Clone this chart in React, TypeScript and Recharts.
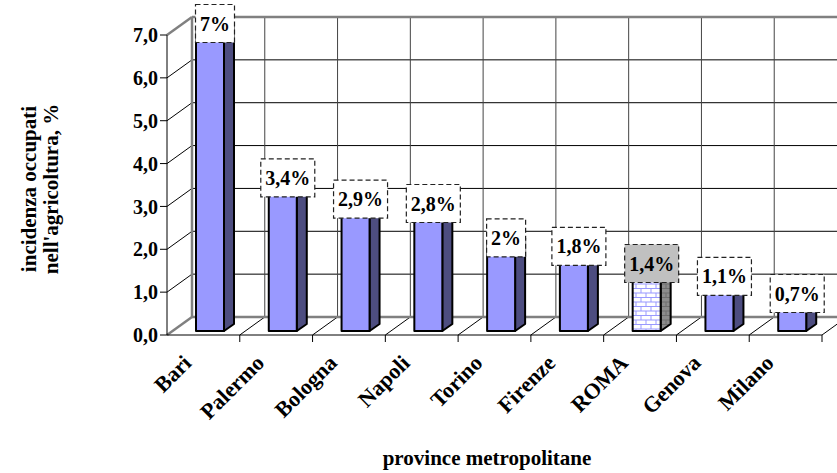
import React from "react";
import * as Recharts from "recharts";
import { BarChart, Bar, XAxis, YAxis, LabelList } from "recharts";

// Incidenza degli occupati in agricoltura per provincia metropolitana
const province = ["Bari", "Palermo", "Bologna", "Napoli", "Torino", "Firenze", "ROMA", "Genova", "Milano"];
const incidenza = [7, 3.4, 2.9, 2.8, 2.0, 1.8, 1.4, 1.1, 0.7];
const etichette = ["7%", "3,4%", "2,9%", "2,8%", "2%", "1,8%", "1,4%", "1,1%", "0,7%"];
const yTicks = [0, 1, 2, 3, 4, 5, 6, 7];
const evidenziata = "ROMA";

const data = province.map((nome, i) => ({ nome, valore: incidenza[i], etichetta: etichette[i] }));

const W = 837;
const H = 473;
const Y_MAX = 7;
const FONT = "'Liberation Serif', 'Times New Roman', serif";

// prospettiva obliqua della "stanza" 3D
const DEPTH_X = 25;
const DEPTH_Y = 18;
// posizione della colonna dentro la profondita'
const BAR_DX = 7;
const BAR_DY = 4;
const SIDE_X = 10;
const SIDE_Y = 7;

const BAR_FILL = "#9999FF";
const BAR_SIDE = "#4D4D80";
const EDGE = "#808080";

const usePlot: any = (Recharts as any).usePlotArea;

// pareti, pavimento e griglia
function Stanza() {
  const area = usePlot ? usePlot() : null;
  const x0 = area ? area.x : 167;
  const y0 = area ? area.y : 35;
  const w = area ? area.width : 655;
  const h = area ? area.height : 300;
  const yOf = (v: number) => y0 + h * (1 - v / Y_MAX);
  const step = w / province.length;
  const bottom = yOf(0);
  const bx = x0 + DEPTH_X;

  return (
    <g>
      <defs>
        <pattern id="mattoni" width="10" height="9" patternUnits="userSpaceOnUse">
          <rect width="10" height="9" fill="#FFFFFF" />
          <path d="M0 0.5H10M0 5H10M1 0.5V5M6 5V9" stroke="#9999FF" strokeWidth="1" fill="none" />
        </pattern>
        <pattern id="mattoniLato" width="10" height="9" patternUnits="userSpaceOnUse">
          <rect width="10" height="9" fill="#8C8C8C" />
          <path d="M0 0.5H10M0 5H10M1 0.5V5M6 5V9" stroke="#6E6E6E" strokeWidth="1" fill="none" />
        </pattern>
      </defs>
      {/* parete di fondo: linee orizzontali */}
      {yTicks.filter((v) => v > 0 && v < Y_MAX).map((v) => (
        <g key={"h" + v}>
          <line x1={bx} x2={W + 40} y1={yOf(v) - DEPTH_Y} y2={yOf(v) - DEPTH_Y} stroke="#000" strokeWidth={1} />
          <line x1={x0} x2={bx} y1={yOf(v)} y2={yOf(v) - DEPTH_Y} stroke="#000" strokeWidth={1} />
        </g>
      ))}
      {/* parete di fondo: linee verticali e pavimento */}
      {province.map((_, i) => {
        const xb = x0 + step * (i + 1);
        return (
          <g key={"v" + i}>
            <line x1={xb + DEPTH_X} x2={xb + DEPTH_X} y1={yOf(Y_MAX) - DEPTH_Y} y2={bottom - DEPTH_Y} stroke="#444" strokeWidth={1} />
            <line x1={xb} x2={xb + DEPTH_X} y1={bottom} y2={bottom - DEPTH_Y} stroke="#000" strokeWidth={1} />
            <line x1={xb} x2={xb} y1={bottom} y2={bottom + 7} stroke="#000" strokeWidth={1} />
          </g>
        );
      })}
      {/* spigoli */}
      <g stroke={EDGE} strokeWidth={2.5} fill="none">
        <line x1={bx} x2={W + 40} y1={yOf(Y_MAX) - DEPTH_Y} y2={yOf(Y_MAX) - DEPTH_Y} />
        <line x1={bx} x2={W + 40} y1={bottom - DEPTH_Y} y2={bottom - DEPTH_Y} />
        <line x1={bx} x2={bx} y1={yOf(Y_MAX) - DEPTH_Y} y2={bottom - DEPTH_Y} />
        <line x1={x0} x2={bx} y1={yOf(Y_MAX)} y2={yOf(Y_MAX) - DEPTH_Y} />
        <line x1={x0} x2={bx} y1={bottom} y2={bottom - DEPTH_Y} />
      </g>
    </g>
  );
}

function Barra3D(props: any) {
  const { x, y, width, height, index } = props;
  if (height == null || width == null) return null;
  const roma = province[index] === evidenziata;
  const fx = x + BAR_DX;
  const fy = y - BAR_DY;
  const fw = width;
  const fh = height;
  const front = roma ? "url(#mattoni)" : BAR_FILL;
  const side = roma ? "url(#mattoniLato)" : BAR_SIDE;
  return (
    <g stroke="#000" strokeWidth={2} strokeLinejoin="round">
      <polygon
        points={`${fx},${fy} ${fx + SIDE_X},${fy - SIDE_Y} ${fx + fw + SIDE_X},${fy - SIDE_Y} ${fx + fw},${fy}`}
        fill={BAR_FILL}
      />
      <polygon
        points={`${fx + fw},${fy} ${fx + fw + SIDE_X},${fy - SIDE_Y} ${fx + fw + SIDE_X},${fy + fh - SIDE_Y} ${fx + fw},${fy + fh}`}
        fill={side}
      />
      <rect x={fx} y={fy} width={fw} height={fh} fill={front} />
    </g>
  );
}

const charW: Record<string, number> = { ",": 0.25, "%": 1.0 };
const textWidth = (s: string, size: number) =>
  s.split("").reduce((acc, c) => acc + (charW[c] ?? 0.5), 0) * size;

function Etichetta(props: any) {
  const { x, y, width, index, value } = props;
  const roma = province[index] === evidenziata;
  const cx = x + BAR_DX + (width + SIDE_X) / 2;
  const cy = y - 11.5;
  const bw = textWidth(String(value), 20) + 9;
  const bh = 38;
  return (
    <g>
      <rect
        x={cx - bw / 2}
        y={cy - bh / 2}
        width={bw}
        height={bh}
        fill={roma ? "#C0C0C0" : "#FFFFFF"}
        stroke="#222"
        strokeWidth={1.2}
        strokeDasharray="5 3"
      />
      <text x={cx} y={cy + 7} textAnchor="middle" fontFamily={FONT} fontWeight="bold" fontSize={20} fill="#000">
        {value}
      </text>
    </g>
  );
}

function TickProvincia(props: any) {
  const { x, y, payload } = props;
  const ax = x - 16;
  const ay = y + 16;
  return (
    <text
      x={ax}
      y={ay}
      transform={`rotate(-45, ${ax}, ${ay})`}
      textAnchor="end"
      dominantBaseline="central"
      fontFamily={FONT}
      fontWeight="bold"
      fontSize={22}
      fill="#000"
    >
      {payload.value}
    </text>
  );
}

export default function App() {
  return (
    <div style={{ position: "absolute", left: 0, top: 0, width: W, height: H, background: "#fff" }}>
      <BarChart width={W} height={H} data={data} margin={{ top: 35, right: 15, bottom: 38, left: 107 }} barSize={28}>
        <Stanza />
        <XAxis
          dataKey="nome"
          interval={0}
          height={100}
          tickLine={false}
          axisLine={{ stroke: "#000", strokeWidth: 1 }}
          tick={<TickProvincia />}
        />
        <YAxis
          domain={[0, Y_MAX]}
          ticks={yTicks}
          width={60}
          tickSize={7}
          axisLine={{ stroke: "#000", strokeWidth: 1 }}
          tickLine={{ stroke: "#000" }}
          tickFormatter={(v: number) => v.toFixed(1).replace(".", ",")}
          tick={{ fontFamily: FONT, fontWeight: "bold", fontSize: 20, fill: "#000" }}
        />
        <Bar dataKey="valore" shape={<Barra3D />} isAnimationActive={false}>
          <LabelList dataKey="etichetta" content={<Etichetta />} />
        </Bar>
        <text
          transform="translate(40, 189) rotate(-90)"
          textAnchor="middle"
          fontFamily={FONT}
          fontWeight="bold"
          fontSize={21}
          fill="#000"
        >
          <tspan x={0} dy={-4}>incidenza occupati</tspan>
          <tspan x={0} dy={22}>nell'agricoltura, %</tspan>
        </text>
        <text x={487} y={465} textAnchor="middle" fontFamily={FONT} fontWeight="bold" fontSize={21} fill="#000">
          province metropolitane
        </text>
      </BarChart>
    </div>
  );
}
